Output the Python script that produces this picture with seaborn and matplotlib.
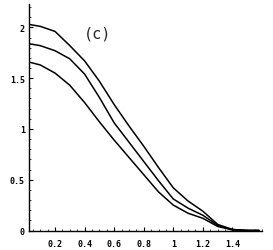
import numpy as np
import pandas as pd
import matplotlib
matplotlib.use("Agg")
import matplotlib.pyplot as plt
from matplotlib.ticker import MultipleLocator, FixedLocator
import seaborn as sns

x = [0.02, 0.1, 0.2, 0.3, 0.4, 0.5, 0.6, 0.7, 0.8, 0.9, 1.0, 1.1, 1.2, 1.3, 1.4, 1.5, 1.58]
top = [2.03, 2.01, 1.96, 1.82, 1.67, 1.47, 1.24, 1.03, 0.83, 0.62, 0.42, 0.29, 0.19, 0.06, 0.01, 0.0, 0.0]
middle = [1.84, 1.82, 1.77, 1.69, 1.54, 1.31, 1.06, 0.87, 0.68, 0.49, 0.31, 0.22, 0.15, 0.05, 0.01, 0.0, 0.0]
bottom = [1.66, 1.63, 1.55, 1.43, 1.26, 1.07, 0.89, 0.72, 0.55, 0.38, 0.25, 0.17, 0.12, 0.04, 0.005, 0.0, 0.0]
x_ticks = [0.2, 0.4, 0.6, 0.8, 1.0, 1.2, 1.4]
x_tick_labels = ["0.2", "0.4", "0.6", "0.8", "1", "1.2", "1.4"]
y_ticks = [0, 0.5, 1, 1.5, 2]
y_tick_labels = ["0", "0.5", "1", "1.5", "2"]
panel_label = "(c)"

df = pd.DataFrame({
    "x": x * 3,
    "y": top + middle + bottom,
    "curve": ["top"] * len(x) + ["middle"] * len(x) + ["bottom"] * len(x),
})

sns.set_style("ticks")
plt.rcParams["font.family"] = ["DejaVu Sans Mono", "DejaVu Sans"]

fig = plt.figure(figsize=(2.73, 2.51), dpi=100)
ax = fig.add_axes([29 / 273, (251 - 231.5) / 251, (262 - 29) / 273, (231.5 - 5) / 251])

sns.lineplot(data=df, x="x", y="y", hue="curve", palette=["black", "black", "black"],
             linewidth=1.1, legend=False, ax=ax, sort=False, estimator=None)

ax.set_xlim(0.024, 1.60)
ax.set_ylim(0, 2.23)
ax.set_xlabel("")
ax.set_ylabel("")
for s in ["top", "right"]:
    ax.spines[s].set_visible(False)
for s in ["left", "bottom"]:
    ax.spines[s].set_linewidth(1.0)
    ax.spines[s].set_color("black")

ax.xaxis.set_major_locator(FixedLocator(x_ticks))
ax.set_xticklabels(x_tick_labels)
ax.yaxis.set_major_locator(FixedLocator(y_ticks))
ax.set_yticklabels(y_tick_labels)
ax.xaxis.set_minor_locator(MultipleLocator(0.05))
ax.yaxis.set_minor_locator(MultipleLocator(0.1))
ax.tick_params(axis="both", which="major", direction="in", length=3, width=0.8,
               labelsize=6, colors="black")
ax.tick_params(axis="both", which="minor", direction="in", length=1.5, width=0.6)
ax.tick_params(axis="x", which="major", pad=6)
ax.tick_params(axis="y", which="major", pad=3)
for lab in ax.get_xticklabels() + ax.get_yticklabels():
    lab.set_fontweight("bold")

ax.text(0.49, 1.94, panel_label, fontsize=11, ha="center", va="center",
        family=["DejaVu Sans Mono"])

fig.savefig("out.png", dpi=100)
